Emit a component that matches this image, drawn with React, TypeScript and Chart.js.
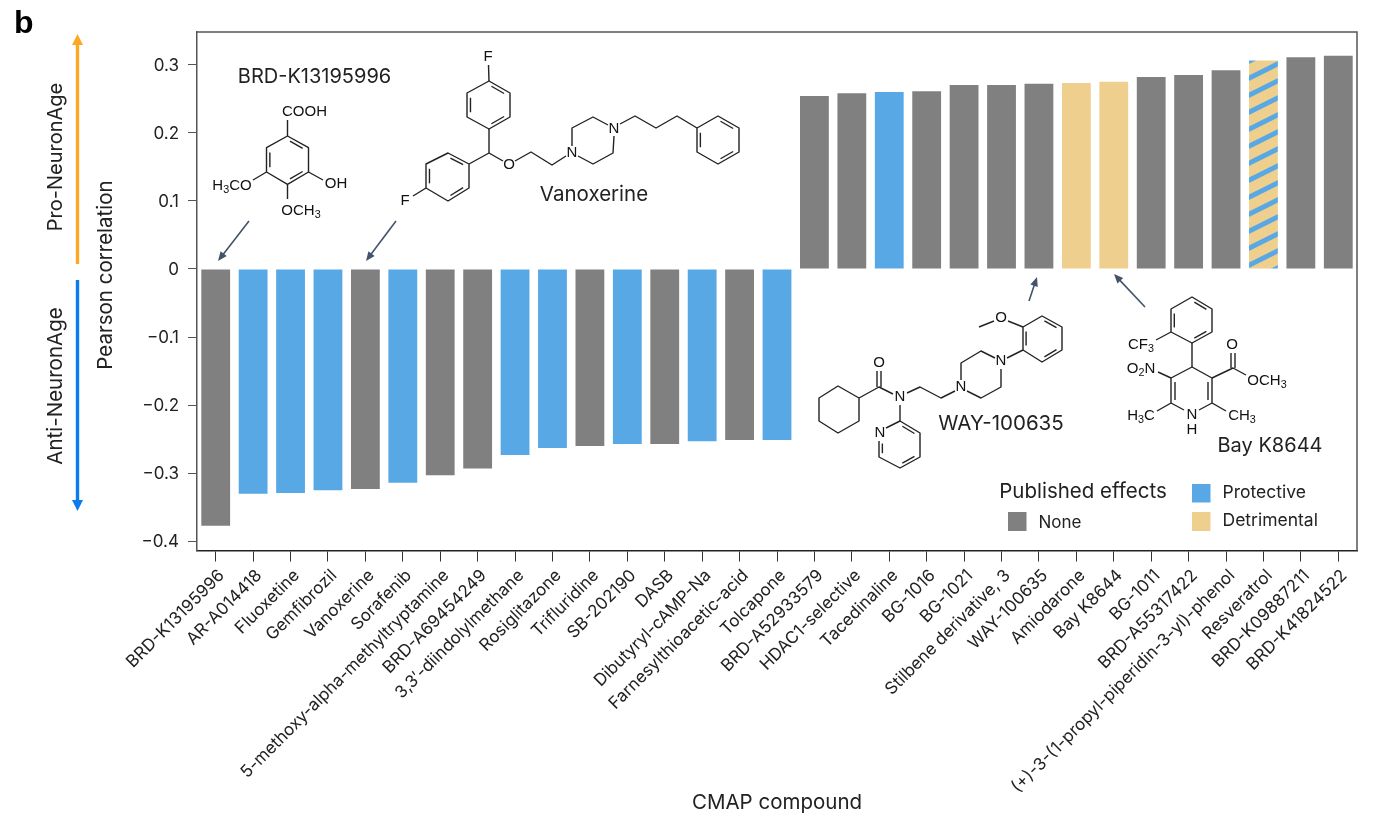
import React, { useEffect, useRef } from "react";
import { Chart, registerables } from "chart.js";

Chart.register(...registerables);

const compounds = [
  "BRD-K13195996", "AR-A014418", "Fluoxetine", "Gemfibrozil", "Vanoxerine", "Sorafenib",
  "5-methoxy-alpha-methyltryptamine", "BRD-A69454249", "3,3′-diindolylmethane", "Rosiglitazone",
  "Trifluridine", "SB-202190", "DASB", "Dibutyryl-cAMP-Na", "Farnesylthioacetic-acid", "Tolcapone",
  "BRD-A52933579", "HDAC1-selective", "Tacedinaline", "BG-1016", "BG-1021", "Stilbene derivative, 3",
  "WAY-100635", "Amiodarone", "Bay K8644", "BG-1011", "BRD-A55317422",
  "(+)-3-(1-propyl-piperidin-3-yl)-phenol", "Resveratrol", "BRD-K09887211", "BRD-K41824522",
];
const correlations = [
  -0.377, -0.33, -0.329, -0.325, -0.323, -0.314, -0.303, -0.293, -0.273, -0.263, -0.26, -0.257, -0.257,
  -0.253, -0.251, -0.251,
  0.254, 0.258, 0.26, 0.261, 0.27, 0.27, 0.272, 0.273, 0.275, 0.282, 0.285, 0.292, 0.306, 0.311, 0.313,
];
// n none, p protective, d detrimental, b both
const effects = [
  "n", "p", "p", "p", "n", "p", "n", "n", "p", "p", "n", "p", "n", "p", "n", "p",
  "n", "n", "p", "n", "n", "n", "n", "d", "d", "n", "n", "n", "b", "n", "n",
];
const yTicks = [0.3, 0.2, 0.1, 0, -0.1, -0.2, -0.3, -0.4];

const GREY = "#808080";
const BLUE = "#58A8E5";
const TAN = "#EFCF8E";
const INK = "#222222";
const FONT = "Inter, 'Noto Sans', sans-serif";

type P = [number, number];

function makeHatch(): CanvasPattern | string {
  const c = document.createElement("canvas");
  c.width = 34;
  c.height = 17;
  const g = c.getContext("2d");
  if (!g) return TAN;
  g.fillStyle = TAN;
  g.fillRect(0, 0, 34, 17);
  g.fillStyle = BLUE;
  for (const off of [-17, 0, 17, 34]) {
    const o = off + 3;
    g.beginPath();
    g.moveTo(0, o + 17);
    g.lineTo(34, o);
    g.lineTo(34, o + 5.5);
    g.lineTo(0, o + 22.5);
    g.closePath();
    g.fill();
  }
  return g.createPattern(c, "repeat") ?? TAN;
}

const annotationPlugin = {
  id: "annotations",
  afterDraw(chart: Chart) {
    const ctx = chart.ctx;
    const { left, right, top, bottom } = chart.chartArea;
    ctx.save();

    // frame
    ctx.strokeStyle = "#555555";
    ctx.lineWidth = 1.5;
    ctx.beginPath();
    ctx.moveTo(left, top);
    ctx.lineTo(right, top);
    ctx.lineTo(right, bottom);
    ctx.stroke();

    const text = (s: string, x: number, y: number, size: number, align: CanvasTextAlign = "center", color = INK) => {
      ctx.font = `${size}px ${FONT}`;
      ctx.fillStyle = color;
      ctx.textAlign = align;
      ctx.textBaseline = "middle";
      ctx.fillText(s, x, y);
    };
    const rotated = (s: string, x: number, y: number, size: number) => {
      ctx.save();
      ctx.translate(x, y);
      ctx.rotate(-Math.PI / 2);
      text(s, 0, 0, size);
      ctx.restore();
    };
    // formula with subscript pieces: list of [text, isSub]
    const formula = (parts: [string, boolean][], x: number, y: number, size: number, align: "left" | "center" | "right" = "center") => {
      let w = 0;
      for (const [t, sub] of parts) {
        ctx.font = `${sub ? size * 0.72 : size}px 'Liberation Sans', Arial, sans-serif`;
        w += ctx.measureText(t).width;
      }
      let cx = align === "left" ? x : align === "center" ? x - w / 2 : x - w;
      ctx.textAlign = "left";
      ctx.textBaseline = "middle";
      ctx.fillStyle = "#111111";
      for (const [t, sub] of parts) {
        ctx.font = `${sub ? size * 0.72 : size}px 'Liberation Sans', Arial, sans-serif`;
        ctx.fillText(t, cx, sub ? y + size * 0.3 : y);
        cx += ctx.measureText(t).width;
      }
    };
    const poly = (pts: P[], closed = false) => {
      ctx.beginPath();
      pts.forEach((p, i) => (i ? ctx.lineTo(p[0], p[1]) : ctx.moveTo(p[0], p[1])));
      if (closed) ctx.closePath();
      ctx.stroke();
    };
    // inner parallel line for a double bond in a ring
    const inner = (a: P, b: P, c: P) => {
      const k = 0.16;
      const s = 0.14;
      const ax = a[0] + (c[0] - a[0]) * k, ay = a[1] + (c[1] - a[1]) * k;
      const bx = b[0] + (c[0] - b[0]) * k, by = b[1] + (c[1] - b[1]) * k;
      poly([
        [ax + (bx - ax) * s, ay + (by - ay) * s],
        [bx - (bx - ax) * s, by - (by - ay) * s],
      ]);
    };
    const aromatic = (r: P[], idx: number[]) => {
      const c: P = [r.reduce((a, p) => a + p[0], 0) / r.length, r.reduce((a, p) => a + p[1], 0) / r.length];
      idx.forEach((i) => inner(r[i], r[(i + 1) % r.length], c));
    };
    const arrow = (a: P, b: P) => {
      ctx.strokeStyle = "#44536B";
      ctx.fillStyle = "#44536B";
      ctx.lineWidth = 1.6;
      const ang = Math.atan2(b[1] - a[1], b[0] - a[0]);
      const head = 10;
      const base: P = [b[0] - Math.cos(ang) * head * 0.8, b[1] - Math.sin(ang) * head * 0.8];
      poly([a, base]);
      ctx.beginPath();
      ctx.moveTo(b[0], b[1]);
      ctx.lineTo(b[0] - Math.cos(ang - 0.4) * head, b[1] - Math.sin(ang - 0.4) * head);
      ctx.lineTo(b[0] - Math.cos(ang + 0.4) * head, b[1] - Math.sin(ang + 0.4) * head);
      ctx.closePath();
      ctx.fill();
    };

    // panel letter
    ctx.font = `bold 32px 'Liberation Sans', Arial, sans-serif`;
    ctx.fillStyle = "#000000";
    ctx.textAlign = "left";
    ctx.textBaseline = "alphabetic";
    ctx.fillText("b", 14, 33);

    // side arrows
    const sideArrow = (x: number, y0: number, y1: number, color: string) => {
      const dir = y1 > y0 ? 1 : -1;
      ctx.fillStyle = color;
      ctx.fillRect(x - 1.7, Math.min(y0, y1 - dir * 10), 3.4, Math.abs(y1 - dir * 10 - y0));
      ctx.beginPath();
      ctx.moveTo(x, y1);
      ctx.lineTo(x - 5.5, y1 - dir * 11);
      ctx.lineTo(x + 5.5, y1 - dir * 11);
      ctx.closePath();
      ctx.fill();
    };
    sideArrow(77.5, 264, 34, "#FBA826");
    sideArrow(77.5, 280, 511, "#0A7CEB");
    rotated("Pro-NeuronAge", 56, 157, 20);
    rotated("Anti-NeuronAge", 56, 386, 20.5);
    rotated("Pearson correlation", 106, 275, 20.5);

    // callout names
    text("BRD-K13195996", 314.5, 77, 20);
    text("Vanoxerine", 594, 195, 20.5);
    text("WAY-100635", 1001, 424, 20.5);
    text("Bay K8644", 1270, 446, 20);

    // arrows
    arrow([249, 221], [218, 261]);
    arrow([396, 221], [366, 261]);
    arrow([1029, 301], [1037, 277]);
    arrow([1145, 307], [1114, 274]);

    ctx.strokeStyle = "#222222";
    ctx.lineWidth = 1.4;
    ctx.lineJoin = "round";

    const fs = 15;

    // BRD-K13195996
    const r1: P[] = [[287.5, 136], [308.5, 147.7], [308.5, 172], [287.5, 184.3], [266.5, 172], [266.5, 147.7]];
    poly(r1, true);
    aromatic(r1, [0, 2, 4]);
    poly([[287.5, 136], [287.5, 120]]);
    poly([[308.5, 172], [323, 180]]);
    poly([[266.5, 172], [253, 180]]);
    poly([[287.5, 184.3], [287.5, 199]]);
    formula([["COOH", false]], 304.5, 112, fs);
    formula([["OH", false]], 336, 184, fs);
    formula([["H", false], ["3", true], ["CO", false]], 232, 186, fs);
    formula([["OCH", false], ["3", true]], 301, 211, fs);

    // Vanoxerine
    const r2: P[] = [[489, 81], [510, 93], [510, 117], [489, 129], [467, 117], [467, 93]];
    poly(r2, true);
    aromatic(r2, [0, 2, 4]);
    const r3: P[] = [[448, 153], [469, 164], [469, 188], [448, 201], [426, 188], [426, 164]];
    poly(r3, true);
    aromatic(r3, [0, 2, 4]);
    const r4: P[] = [[718, 116], [739, 128], [739, 152], [718, 164], [697, 152], [697, 128]];
    poly(r4, true);
    aromatic(r4, [0, 2, 4]);
    poly([[488.5, 65], [489, 81]]);
    poly([[489, 129], [489, 153], [469, 164]]);
    poly([[426, 188], [413, 196]]);
    poly([[489, 153], [503, 161]]);
    poly([[515, 161], [531, 152], [552, 165], [566, 156]]);
    poly([[572, 146], [572, 128], [593, 117], [608, 125]]);
    poly([[614, 136], [613, 153], [593, 164], [578, 156]]);
    poly([[620, 124], [635, 116], [656, 128], [677, 116], [697, 128]]);
    formula([["F", false]], 488, 57, fs);
    formula([["F", false]], 405, 201, fs);
    formula([["O", false]], 509, 165, fs);
    formula([["N", false]], 572, 153, fs);
    formula([["N", false]], 614, 129, fs);

    // WAY-100635
    poly([[859, 398], [859, 421], [838, 433], [819, 421], [819, 398], [838, 386]], true);
    poly([[859, 398], [879, 387], [893, 394]]);
    poly([[877, 387], [877, 371]]);
    poly([[881, 387], [881, 371]]);
    poly([[907, 393], [920, 387], [941, 398], [955, 391]]);
    poly([[961, 380], [961, 363], [981, 351], [995, 358]]);
    poly([[1001, 369], [1001, 387], [981, 398], [967, 391]]);
    poly([[1007, 358], [1023, 350]]);
    const r5: P[] = [[1023, 327], [1042, 316], [1062, 327], [1062, 350], [1042, 362], [1023, 350]];
    poly(r5, true);
    aromatic(r5, [1, 3, 5]);
    poly([[1023, 327], [1008, 321]]);
    poly([[979, 327], [994, 321]]);
    poly([[900, 405], [900, 421]]);
    poly([[900, 421], [920, 433], [920, 457], [900, 468], [879, 457], [879, 441]]);
    poly([[886, 428], [900, 421]]);
    inner([900, 421], [920, 433], [900, 445]);
    inner([920, 457], [900, 468], [900, 445]);
    inner([879, 457], [879, 441], [900, 445]);
    formula([["O", false]], 879, 363, fs);
    formula([["N", false]], 900, 397, fs);
    formula([["N", false]], 961, 387, fs);
    formula([["N", false]], 1001, 361, fs);
    formula([["O", false]], 1001, 318, fs);
    formula([["N", false]], 880, 433, fs);

    // Bay K8644
    const r6: P[] = [[1192, 297], [1212, 309], [1212, 332], [1192, 343], [1171, 332], [1171, 309]];
    poly(r6, true);
    aromatic(r6, [0, 2, 4]);
    poly([[1171, 332], [1156, 340]]);
    poly([[1192, 343], [1192, 367]]);
    poly([[1184, 410], [1171, 403], [1171, 378], [1192, 367], [1212, 378], [1212, 403], [1199, 410]]);
    poly([[1175, 382], [1175, 400]]);
    poly([[1208, 382], [1208, 400]]);
    poly([[1171, 378], [1158, 372]]);
    poly([[1171, 403], [1157, 411]]);
    poly([[1212, 403], [1226, 411]]);
    poly([[1212, 378], [1233, 368], [1246, 375]]);
    poly([[1231, 368], [1231, 353]]);
    poly([[1235, 368], [1235, 353]]);
    formula([["CF", false], ["3", true]], 1141, 345, fs);
    formula([["O", false], ["2", true], ["N", false]], 1141, 369, fs);
    formula([["H", false], ["3", true], ["C", false]], 1141, 416, fs);
    formula([["CH", false], ["3", true]], 1242, 416, fs);
    formula([["O", false]], 1232, 345, fs);
    formula([["OCH", false], ["3", true]], 1267, 381, fs);
    formula([["N", false]], 1192, 415, fs);
    formula([["H", false]], 1192, 430, fs);

    // legend
    text("Published effects", 1083, 492, 20.5);
    ctx.fillStyle = GREY;
    ctx.fillRect(1008, 512, 18.5, 19);
    ctx.fillStyle = BLUE;
    ctx.fillRect(1192, 484, 18.5, 18.5);
    ctx.fillStyle = TAN;
    ctx.fillRect(1192, 512, 18.5, 19);
    text("None", 1038.5, 523, 17, "left");
    text("Protective", 1222.5, 493, 17.5, "left");
    text("Detrimental", 1222.5, 521, 17.5, "left");

    ctx.restore();
  },
};

export default function App() {
  const ref = useRef<HTMLCanvasElement | null>(null);
  useEffect(() => {
    if (!ref.current) return;
    const hatch = makeHatch();
    const colorFor: Record<string, CanvasPattern | string> = { n: GREY, p: BLUE, d: TAN, b: hatch };
    const chart = new Chart(ref.current, {
      type: "bar",
      data: {
        labels: compounds,
        datasets: [
          {
            label: "Pearson correlation",
            data: correlations,
            backgroundColor: effects.map((e) => colorFor[e]),
            barPercentage: 0.77,
            categoryPercentage: 1,
          },
        ],
      },
      plugins: [annotationPlugin],
      options: {
        responsive: false,
        animation: false,
        devicePixelRatio: 1,
        layout: { padding: { left: 0, top: 32, right: 22, bottom: 0 } },
        plugins: { legend: { display: false }, tooltip: { enabled: false } },
        scales: {
          x: {
            grid: { drawOnChartArea: false, drawTicks: true, tickLength: 11, tickColor: "#333333", offset: false },
            border: { color: "#222222", width: 1.5 },
            ticks: {
              autoSkip: false,
              minRotation: 45,
              maxRotation: 45,
              color: INK,
              padding: 4,
              labelOffset: 6,
              font: { family: FONT, size: 17 },
            },
            title: {
              display: true,
              text: "CMAP compound",
              color: INK,
              font: { family: FONT, size: 20.5 },
              padding: { top: 0, bottom: 9 },
            },
            afterFit(scale: any) {
              scale.height = 273.5;
            },
          },
          y: {
            min: -0.4134,
            max: 0.348,
            afterBuildTicks(scale: any) {
              scale.ticks = yTicks.map((value) => ({ value }));
            },
            grid: { drawOnChartArea: false, drawTicks: true, tickLength: 9, tickColor: "#555555" },
            border: { color: "#555555", width: 1.5 },
            ticks: {
              color: INK,
              padding: 9,
              labelOffset: 1,
              font: { family: FONT, size: 17 },
              callback: (v: any) => (Number(v) === 0 ? "0" : Number(v).toFixed(1).replace("-", "\u2212")),
            },
            afterFit(scale: any) {
              scale.width = 197;
            },
          },
        },
      },
    } as any);
    return () => chart.destroy();
  }, []);
  return (
    <canvas
      ref={ref}
      width={1379}
      height={824}
      style={{ position: "fixed", left: 0, top: 0, display: "block", background: "#ffffff" }}
    />
  );
}
